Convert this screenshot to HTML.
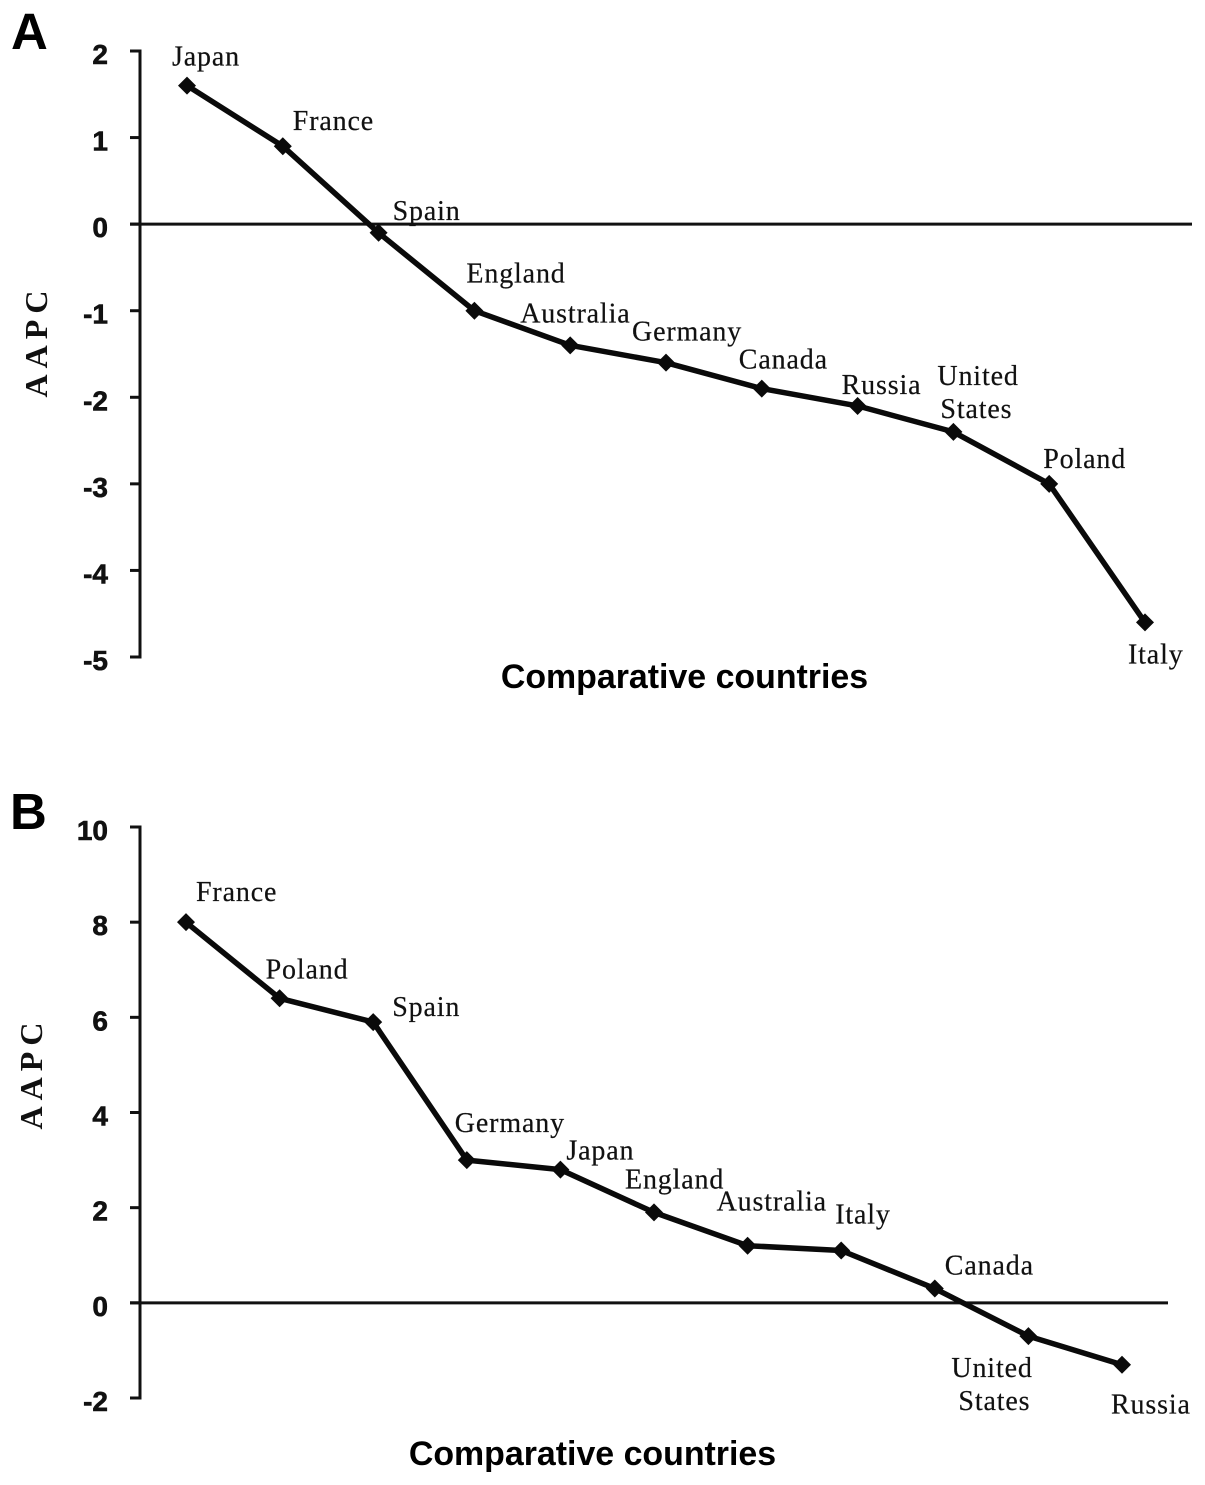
<!DOCTYPE html>
<html lang="en">
<head>
<meta charset="utf-8">
<title>AAPC by comparative country</title>
<style>
  html, body { margin: 0; padding: 0; background: #fff; }
  svg { display: block; }
  .tick { font: bold 28px "Liberation Sans", sans-serif; fill: #111; stroke: #111; stroke-width: 0.6px; text-anchor: end; }
  .label { font: 28px "Liberation Serif", serif; fill: #111; stroke: #111; stroke-width: 0.2px; letter-spacing: 0.85px; }
  .axis-title { font: bold 33.9px "Liberation Sans", sans-serif; fill: #000; text-anchor: middle; }
  .y-title { font: bold 32px "Liberation Serif", serif; fill: #111; text-anchor: middle; letter-spacing: 6px; }
  .panel { font: bold 51px "Liberation Sans", sans-serif; fill: #000; }
</style>
</head>
<body>
<svg id="chart" xmlns="http://www.w3.org/2000/svg" width="1205" height="1485" viewBox="0 0 1205 1485">
  <rect width="1205" height="1485" fill="#fff"/>
</svg>
<script>
// Panel A data
const countriesA = [["Japan"], ["France"], ["Spain"], ["England"], ["Australia"], ["Germany"], ["Canada"], ["Russia"], ["United", "States"], ["Poland"], ["Italy"]];
const valuesA = [1.6, 0.9, -0.1, -1.0, -1.4, -1.6, -1.9, -2.1, -2.4, -3.0, -4.6];
const ticksA = [2, 1, 0, -1, -2, -3, -4, -5];

// Panel B data
const countriesB = [["France"], ["Poland"], ["Spain"], ["Germany"], ["Japan"], ["England"], ["Australia"], ["Italy"], ["Canada"], ["United", "States"], ["Russia"]];
const valuesB = [8.0, 6.4, 5.9, 3.0, 2.8, 1.9, 1.2, 1.1, 0.3, -0.7, -1.3];
const ticksB = [10, 8, 6, 4, 2, 0, -2];

const NS = 'http://www.w3.org/2000/svg';
const svg = document.getElementById('chart');

function make(tag, attrs, text) {
  const el = document.createElementNS(NS, tag);
  for (const k in attrs) el.setAttribute(k, attrs[k]);
  if (text !== undefined) el.textContent = text;
  svg.appendChild(el);
  return el;
}

function drawPanel(cfg) {
  const yMax = Math.max.apply(null, cfg.ticks);
  const yMin = Math.min.apply(null, cfg.ticks);
  const yScale = v => cfg.top + (yMax - v) * (cfg.bottom - cfg.top) / (yMax - yMin);
  const xScale = i => cfg.x0 + i * cfg.step;
  const p = cfg.id;

  const letter = make('text', { x: cfg.letterX, y: cfg.letterY, class: 'panel' }, p.toUpperCase());
  
  

  const axis = make('line', { x1: 140, x2: 140, y1: cfg.top - 1.5, y2: cfg.bottom + 1.5, stroke: '#111', 'stroke-width': 3 });
  
  

  cfg.ticks.forEach(t => {
    const y = yScale(t);
    const mark = make('line', { x1: 130, x2: 140, y1: y, y2: y, stroke: '#111', 'stroke-width': 3 });
    
    
    const lab = make('text', { x: 108, y: y + 13, class: 'tick' }, String(t));
    
    
  });

  const zero = make('line', { x1: 130, x2: cfg.zeroEnd, y1: yScale(0), y2: yScale(0), stroke: '#111', 'stroke-width': 3 });
  
  

  const pts = cfg.values.map((v, i) => xScale(i).toFixed(1) + ',' + yScale(v).toFixed(1)).join(' ');
  const line = make('polyline', { points: pts, fill: 'none', stroke: '#0a0a0a', 'stroke-width': 5.5, 'stroke-linejoin': 'round' });
  
  

  cfg.values.forEach((v, i) => {
    const x = xScale(i), y = yScale(v), r = 9;
    const pt = make('polygon', { points: [x, y - r, x + r, y, x, y + r, x - r, y].join(' '), fill: '#0a0a0a' });
    
    

    const off = cfg.labelOffsets[i];
    cfg.names[i].forEach((word, j) => {
      const o = off[j];
      const lab = make('text', { x: x + o[0], y: y + o[1], class: 'label' }, word);
      
      
    });
  });

  const xt = make('text', { x: cfg.titleX, y: cfg.titleY, class: 'axis-title' }, 'Comparative countries');
  
  

  const yt = make('text', { class: 'y-title', transform: 'translate(' + cfg.yTitleX + ' ' + cfg.yTitleY + ') rotate(-90)' }, 'AAPC');
  
  
}

drawPanel({
  id: 'a', names: countriesA, values: valuesA, ticks: ticksA,
  top: 51, bottom: 657, x0: 187, step: 95.8, zeroEnd: 1192,
  letterX: 11, letterY: 49, titleX: 684.5, titleY: 688, yTitleX: 47, yTitleY: 341,
  labelOffsets: [[[-15, -20]], [[10, -16]], [[14, -13]], [[-8, -28]], [[-50, -23]], [[-34, -22]], [[-23, -20]], [[-16, -12]], [[-16, -47], [-13, -14]], [[-6, -16]], [[-17, 41]]]
});

drawPanel({
  id: 'b', names: countriesB, values: valuesB, ticks: ticksB,
  top: 827, bottom: 1398, x0: 186, step: 93.6, zeroEnd: 1168,
  letterX: 10, letterY: 829, titleX: 592.5, titleY: 1465, yTitleX: 42, yTitleY: 1073,
  labelOffsets: [[[10, -21]], [[-14, -20]], [[19, -6]], [[-12, -28]], [[6, -10]], [[-29, -24]], [[-31, -35]], [[-6, -27]], [[10, -14]], [[-77, 41], [-70, 74]], [[-11, 49]]]
});
</script>
</body>
</html>
